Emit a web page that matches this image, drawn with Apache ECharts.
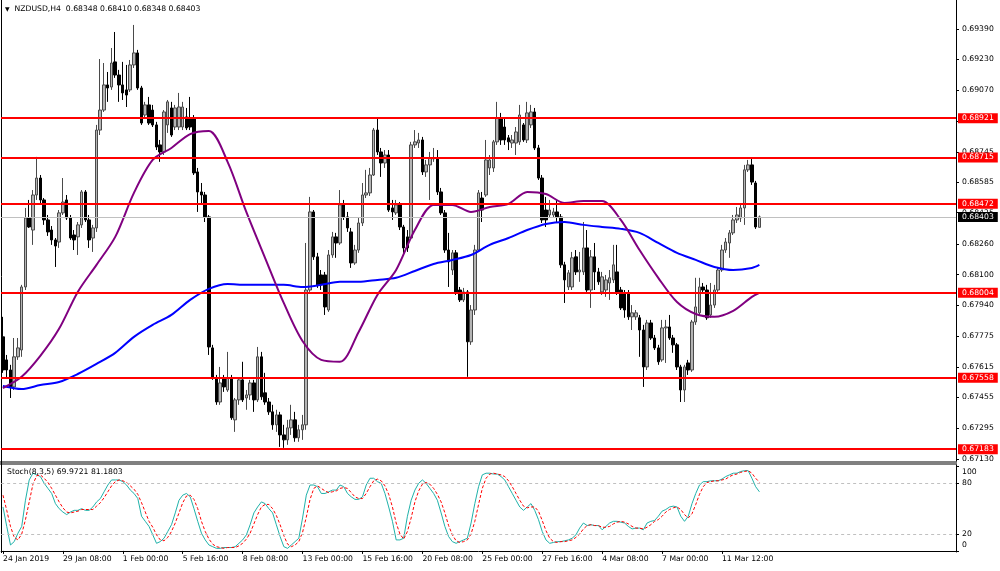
<!DOCTYPE html>
<html>
<head>
<meta charset="utf-8">
<script src="https://cdn.jsdelivr.net/npm/echarts@6.0.0/dist/echarts.min.js"></script>
<style>html,body{margin:0;padding:0;background:#fff}#chart{width:1000px;height:571px}</style>
</head>
<body>
<div id="chart"></div>
<script>
const symbolName = 'NZDUSD,H4';
const stochName = 'Stoch(8,3,5)';
const tickLabels = ['24 Jan 2019','29 Jan 08:00','1 Feb 00:00','5 Feb 16:00','8 Feb 08:00','13 Feb 00:00','15 Feb 16:00','20 Feb 08:00','25 Feb 00:00','27 Feb 16:00','4 Mar 08:00','7 Mar 00:00','11 Mar 12:00'];
const priceTicks = [0.69390,0.69230,0.69070,0.68905,0.68745,0.68585,0.68425,0.68260,0.68100,0.67940,0.67775,0.67615,0.67455,0.67295,0.67130];
const levels = [0.68921,0.68715,0.68472,0.68004,0.67558,0.67183];
const stochTicks = [100,80,20,0];
const stochLevels = [80,20];
// candles: [open, close, low, high]
const candles = [
[0.67773,0.67599,0.67584,0.67878],[0.67652,0.67599,0.67557,0.67678],[0.67599,0.67510,0.67452,0.67626],[0.67510,0.67668,0.67494,0.67767],
[0.67668,0.67715,0.67652,0.67767],[0.67704,0.68035,0.67668,0.68046],[0.68035,0.68397,0.68019,0.68450],[0.68397,0.68350,0.68345,0.68492],
[0.68334,0.68518,0.68256,0.68544],[0.68518,0.68607,0.68492,0.68718],[0.68607,0.68492,0.68466,0.68623],[0.68492,0.68387,0.68361,0.68502],
[0.68387,0.68324,0.68303,0.68413],[0.68334,0.68282,0.68256,0.68355],[0.68282,0.68250,0.68140,0.68292],[0.68271,0.68424,0.68240,0.68439],
[0.68424,0.68481,0.68413,0.68607],[0.68492,0.68397,0.68387,0.68518],[0.68397,0.68292,0.68282,0.68413],[0.68308,0.68282,0.68229,0.68334],
[0.68298,0.68361,0.68203,0.68376],[0.68361,0.68534,0.68345,0.68544],[0.68534,0.68387,0.68376,0.68544],[0.68387,0.68282,0.68240,0.68413],
[0.68292,0.68345,0.68219,0.68361],[0.68345,0.68859,0.68324,0.68886],[0.68859,0.68964,0.68833,0.69232],[0.68964,0.69096,0.68954,0.69211],
[0.69096,0.69080,0.69007,0.69164],[0.69085,0.69211,0.69070,0.69290],[0.69217,0.69148,0.69133,0.69374],[0.69148,0.69096,0.69007,0.69175],
[0.69096,0.69054,0.69017,0.69217],[0.69070,0.69043,0.68980,0.69201],[0.69070,0.69201,0.69059,0.69227],[0.69201,0.69264,0.69185,0.69411],
[0.69264,0.69080,0.69070,0.69280],[0.69080,0.68896,0.68886,0.69091],[0.68938,0.68991,0.68923,0.69007],[0.68991,0.68896,0.68886,0.69033],
[0.68964,0.68886,0.68875,0.68991],[0.68886,0.68770,0.68754,0.68902],[0.68781,0.68744,0.68692,0.68807],[0.68744,0.68954,0.68728,0.68964],
[0.68886,0.69007,0.68844,0.69017],[0.68975,0.68833,0.68823,0.69007],[0.68875,0.68975,0.68859,0.68991],[0.68875,0.68980,0.68859,0.69054],
[0.68875,0.68980,0.68859,0.69007],[0.68928,0.68870,0.68859,0.68975],[0.68923,0.68875,0.68859,0.69033],[0.68923,0.68634,0.68623,0.68938],
[0.68639,0.68534,0.68429,0.68660],[0.68534,0.68518,0.68466,0.68581],[0.68518,0.68403,0.68376,0.68534],[0.68403,0.67720,0.67678,0.68413],
[0.67715,0.67557,0.67547,0.67731],[0.67557,0.67431,0.67416,0.67573],[0.67431,0.67531,0.67416,0.67615],[0.67557,0.67510,0.67484,0.67573],
[0.67494,0.67557,0.67484,0.67694],[0.67557,0.67348,0.67337,0.67573],[0.67337,0.67442,0.67274,0.67452],[0.67442,0.67547,0.67416,0.67557],
[0.67547,0.67442,0.67431,0.67642],[0.67452,0.67468,0.67390,0.67494],[0.67468,0.67531,0.67442,0.67547],[0.67531,0.67442,0.67379,0.67547],
[0.67442,0.67668,0.67431,0.67720],[0.67668,0.67458,0.67442,0.67694],[0.67479,0.67431,0.67416,0.67584],[0.67431,0.67379,0.67363,0.67452],
[0.67379,0.67311,0.67285,0.67416],[0.67311,0.67363,0.67274,0.67390],[0.67363,0.67258,0.67195,0.67379],[0.67258,0.67232,0.67190,0.67311],
[0.67232,0.67295,0.67206,0.67337],[0.67295,0.67337,0.67258,0.67416],[0.67337,0.67243,0.67222,0.67379],[0.67243,0.67285,0.67222,0.67311],
[0.67285,0.67311,0.67232,0.67363],[0.67311,0.68019,0.67285,0.68266],[0.68019,0.68429,0.68009,0.68508],[0.68429,0.68193,0.68177,0.68439],
[0.68193,0.68046,0.68030,0.68214],[0.68098,0.68046,0.68019,0.68124],[0.68098,0.67930,0.67888,0.68114],[0.67914,0.68203,0.67904,0.68229],
[0.68203,0.68298,0.68188,0.68324],[0.68298,0.68266,0.68188,0.68319],[0.68266,0.68466,0.68256,0.68544],[0.68466,0.68403,0.68387,0.68492],
[0.68403,0.68345,0.68324,0.68429],[0.68324,0.68161,0.68135,0.68345],[0.68161,0.68229,0.68151,0.68256],[0.68229,0.68371,0.68214,0.68397],
[0.68371,0.68518,0.68355,0.68581],[0.68518,0.68529,0.68502,0.68650],[0.68529,0.68623,0.68513,0.68660],[0.68623,0.68859,0.68618,0.68870],
[0.68859,0.68744,0.68728,0.68923],[0.68744,0.68686,0.68613,0.68765],[0.68686,0.68728,0.68660,0.68754],[0.68728,0.68439,0.68429,0.68754],
[0.68450,0.68429,0.68387,0.68492],[0.68424,0.68466,0.68413,0.68492],[0.68466,0.68350,0.68334,0.68481],[0.68350,0.68240,0.68214,0.68361],
[0.68298,0.68240,0.68219,0.68334],[0.68292,0.68781,0.68282,0.68797],[0.68781,0.68797,0.68765,0.68859],[0.68791,0.68807,0.68765,0.68844],
[0.68807,0.68639,0.68623,0.68823],[0.68639,0.68676,0.68613,0.68702],[0.68676,0.68713,0.68492,0.68744],[0.68707,0.68713,0.68692,0.68765],
[0.68713,0.68534,0.68518,0.68754],[0.68534,0.68424,0.68413,0.68555],[0.68424,0.68229,0.68214,0.68439],[0.68229,0.68167,0.68035,0.68319],
[0.68124,0.68214,0.68098,0.68229],[0.68214,0.68009,0.67993,0.68229],[0.68019,0.67967,0.67956,0.68035],[0.67967,0.68009,0.67956,0.68030],
[0.68009,0.67747,0.67563,0.68019],[0.67747,0.67914,0.67731,0.67940],[0.67914,0.68229,0.67888,0.68256],[0.68229,0.68529,0.68219,0.68544],
[0.68502,0.68439,0.68376,0.68534],[0.68518,0.68702,0.68508,0.68807],[0.68660,0.68702,0.68623,0.68728],[0.68660,0.68797,0.68639,0.68807],
[0.68797,0.68923,0.68781,0.69007],[0.68923,0.68807,0.68781,0.68949],[0.68875,0.68807,0.68781,0.68923],[0.68818,0.68797,0.68754,0.68833],
[0.68791,0.68807,0.68765,0.68833],[0.68791,0.68849,0.68728,0.68875],[0.68797,0.68938,0.68781,0.68991],[0.68886,0.68807,0.68797,0.68896],
[0.68807,0.68949,0.68791,0.69007],[0.68886,0.68954,0.68870,0.68991],[0.68954,0.68765,0.68754,0.68975],[0.68765,0.68607,0.68597,0.68781],
[0.68607,0.68387,0.68371,0.68623],[0.68439,0.68387,0.68350,0.68508],[0.68413,0.68439,0.68397,0.68492],[0.68413,0.68429,0.68397,0.68450],
[0.68429,0.68403,0.68371,0.68492],[0.68403,0.68151,0.68135,0.68418],[0.68151,0.68072,0.67951,0.68167],[0.68035,0.68109,0.68019,0.68124],
[0.68035,0.68188,0.68019,0.68219],[0.68193,0.68114,0.68098,0.68229],[0.68114,0.68124,0.68062,0.68219],[0.68114,0.68240,0.68098,0.68376],
[0.68240,0.68019,0.68009,0.68334],[0.68019,0.68193,0.67925,0.68229],[0.68193,0.68114,0.68019,0.68266],[0.68114,0.68062,0.68046,0.68135],
[0.68009,0.68088,0.67993,0.68114],[0.68019,0.68072,0.67983,0.68098],[0.68056,0.68083,0.67967,0.68124],[0.68072,0.68151,0.68056,0.68256],
[0.68114,0.68009,0.67993,0.68256],[0.68019,0.67925,0.67914,0.68035],[0.68004,0.67914,0.67873,0.68019],[0.68004,0.67878,0.67862,0.68019],
[0.67878,0.67899,0.67809,0.67940],[0.67878,0.67899,0.67862,0.67914],[0.67873,0.67809,0.67668,0.67888],[0.67809,0.67615,0.67510,0.67836],
[0.67615,0.67846,0.67599,0.67862],[0.67846,0.67767,0.67757,0.67862],[0.67767,0.67715,0.67704,0.67783],[0.67715,0.67642,0.67626,0.67731],
[0.67652,0.67820,0.67642,0.67862],[0.67820,0.67825,0.67636,0.67862],[0.67825,0.67767,0.67757,0.67888],[0.67767,0.67731,0.67689,0.67783],
[0.67731,0.67615,0.67599,0.67741],[0.67615,0.67494,0.67431,0.67626],[0.67494,0.67615,0.67431,0.67626],[0.67636,0.67599,0.67573,0.67652],
[0.67599,0.67851,0.67589,0.67862],[0.67851,0.67930,0.67836,0.68083],[0.67899,0.68035,0.67888,0.68083],[0.68035,0.68019,0.68004,0.68056],
[0.68019,0.67873,0.67862,0.68046],[0.67888,0.67940,0.67873,0.68056],[0.67940,0.68019,0.67925,0.68046],[0.68019,0.68124,0.68009,0.68140],
[0.68124,0.68229,0.68114,0.68256],[0.68229,0.68271,0.68214,0.68292],[0.68266,0.68319,0.68188,0.68334],[0.68319,0.68387,0.68308,0.68413],
[0.68387,0.68413,0.68371,0.68455],[0.68397,0.68450,0.68376,0.68466],[0.68450,0.68650,0.68361,0.68676],[0.68650,0.68676,0.68639,0.68702],
[0.68676,0.68586,0.68571,0.68713],[0.68581,0.68350,0.68340,0.68592],[0.68348,0.68403,0.68348,0.68410]
];
const maSampleBars = [0,5,10,15,20,25,30,35,40,45,50,55,60,65,70,75,80,85,90,95,100,105,110,115,120,125,130,135,140,145,150,155,160,165,170,175,180,185,190,195,200,202];
const maBlue = [0.67515,0.67499,0.67520,0.67536,0.67578,0.67631,0.67689,0.67773,0.67836,0.67888,0.67967,0.68025,0.68051,0.68046,0.68046,0.68046,0.68035,0.68046,0.68062,0.68062,0.68072,0.68083,0.68119,0.68156,0.68177,0.68203,0.68256,0.68292,0.68334,0.68366,0.68376,0.68361,0.68350,0.68340,0.68319,0.68266,0.68214,0.68177,0.68140,0.68124,0.68135,0.68151];
const maPurple = [0.67504,0.67563,0.67673,0.67815,0.68009,0.68151,0.68298,0.68529,0.68702,0.68765,0.68838,0.68854,0.68692,0.68429,0.68188,0.67951,0.67751,0.67652,0.67642,0.67799,0.67993,0.68124,0.68334,0.68466,0.68466,0.68429,0.68455,0.68471,0.68534,0.68523,0.68476,0.68486,0.68486,0.68387,0.68229,0.68083,0.67956,0.67893,0.67878,0.67909,0.67983,0.68004];
const stochMain = [52,29,7,11,21,29,60,84,92,90,88,80,74,68,56,50,46,43,46,48,48,50,48,48,52,58,62,70,78,84,84,84,82,78,72,68,62,41,35,29,19,9,11,15,23,31,45,60,66,68,64,50,35,21,13,7,5,3,3,4,4,4,5,9,13,19,31,45,52,58,56,50,45,31,17,5,3,7,11,15,39,66,78,78,76,68,68,70,72,72,78,76,68,64,61,61,64,78,86,86,82,80,68,52,35,13,13,15,41,60,72,80,84,80,74,68,60,45,29,17,11,9,11,13,15,33,56,76,90,92,92,91,91,88,84,76,68,60,52,48,52,56,48,37,23,13,9,10,11,11,12,13,15,19,27,33,30,31,30,30,25,29,33,35,35,34,33,29,26,27,27,25,33,35,36,41,47,49,52,53,52,41,35,41,56,68,78,82,82,83,83,83,85,88,90,92,92,94,95,95,86,76,69.9721];
const stochSignal = [66,48,29,16,13,20,37,58,79,89,90,86,81,74,66,58,51,46,45,46,47,49,49,49,49,53,57,63,70,77,82,84,83,81,77,73,67,57,46,35,28,19,13,12,16,23,33,45,57,65,66,61,50,35,23,14,8,5,4,3,4,4,4,6,9,14,21,32,43,52,55,55,50,42,31,18,8,5,7,11,22,40,61,74,77,74,71,69,70,71,74,75,74,69,64,62,62,68,76,83,85,83,77,67,52,33,20,14,23,39,58,71,79,81,79,74,67,58,45,30,19,12,10,11,13,20,35,55,74,86,91,92,91,90,88,83,76,68,60,53,51,52,52,47,36,24,15,11,10,11,11,12,13,16,20,26,30,31,30,30,28,28,29,32,34,35,34,32,29,27,27,26,28,31,35,37,41,46,49,51,52,49,43,39,44,55,67,76,81,82,83,83,84,85,88,90,91,93,94,95,92,86,81.1803];

const FONT = 'DejaVu Sans';
const FS = 7.7;
const SLOTS = 255;
const cats = [];
for (let i = 0; i < SLOTS; i++) cats.push(String(i));
const last = candles[candles.length - 1];
const lastPrice = last[1];
const showTick = (i) => i % 16 === 0 && (i / 16) < tickLabels.length;

const chart = echarts.init(document.getElementById('chart'), null, {renderer: 'canvas'});

const boxLabel = (txt, bg) => ({show: true, position: 'end', distance: 2, formatter: txt, color: '#ffffff', backgroundColor: bg,
  padding: [1, 4, 1, 4], fontFamily: FONT, fontSize: FS, lineHeight: 8});
const redLines = levels.map(v => ({yAxis: v, lineStyle: {color: '#ff0000', width: 2, type: 'solid'}, label: boxLabel(v.toFixed(5), '#ff0000')}));
const priceLine = [{yAxis: lastPrice, lineStyle: {color: '#c0c0c0', width: 1, type: 'solid'}, label: boxLabel(lastPrice.toFixed(5), '#000000')}];

const option = {
  animation: false,
  backgroundColor: '#ffffff',
  title: [
    {text: '{a|▼}  ' + symbolName + '  ' + [last[0], last[3], last[2], last[1]].map(v => v.toFixed(5)).join(' '),
     left: 5, top: 5, padding: 0,
     textStyle: {fontFamily: FONT, fontSize: FS, fontWeight: 'normal', color: '#000',
       rich: {a: {fontSize: 6, fontFamily: FONT, color: '#000'}}}},
    {text: stochName + ' ' + stochMain[stochMain.length - 1].toFixed(4) + ' ' + stochSignal[stochSignal.length - 1].toFixed(4),
     left: 7, top: 468, padding: 0,
     textStyle: {fontFamily: FONT, fontSize: FS, fontWeight: 'normal', color: '#000'}}
  ],
  grid: [
    {left: 1, right: 44, top: 0, height: 461, show: false},
    {left: 1, right: 44, top: 465, height: 87, show: false}
  ],
  xAxis: [
    {type: 'category', gridIndex: 0, data: cats, boundaryGap: true,
     axisLine: {show: false}, axisTick: {show: false}, axisLabel: {show: false}, splitLine: {show: false}},
    {type: 'category', gridIndex: 1, data: cats, boundaryGap: true,
     axisLine: {show: true, lineStyle: {color: '#000', width: 1}},
     axisTick: {show: true, interval: showTick, alignWithLabel: true, length: 3, lineStyle: {color: '#000'}},
     axisLabel: {show: true, interval: showTick, align: 'left', margin: 3, color: '#000', fontFamily: FONT, fontSize: FS,
       formatter: (val, idx) => tickLabels[idx / 16] || ''},
     splitLine: {show: false}}
  ],
  yAxis: [
    {type: 'value', gridIndex: 0, position: 'right', min: 0.67121, max: 0.69542,
     axisLine: {show: true, lineStyle: {color: '#000', width: 1}},
     axisTick: {show: true, customValues: priceTicks, length: 3, lineStyle: {color: '#000'}},
     axisLabel: {show: true, customValues: priceTicks, margin: 6, color: '#000', fontFamily: FONT, fontSize: FS,
       formatter: v => v.toFixed(5)},
     splitLine: {show: false}},
    {type: 'value', gridIndex: 1, position: 'right', min: -1.3, max: 101.7,
     axisLine: {show: true, lineStyle: {color: '#000', width: 1}},
     axisTick: {show: true, customValues: stochTicks, length: 3, lineStyle: {color: '#000'}},
     axisLabel: {show: true, customValues: stochTicks, margin: 6, color: '#000', fontFamily: FONT, fontSize: FS,
       formatter: v => v === 100 ? '{t|100}' : (v === 0 ? '{b|0}' : '{m|' + v + '}'),
       rich: {t: {padding: [11, 0, 0, 0], fontFamily: FONT, fontSize: FS, color: '#000'},
              b: {padding: [0, 0, 12, 0], fontFamily: FONT, fontSize: FS, color: '#000'},
              m: {fontFamily: FONT, fontSize: FS, color: '#000'}}},
     splitLine: {show: false}}
  ],
  series: [
    {type: 'line', name: 'bidLine', xAxisIndex: 0, yAxisIndex: 0, data: [], z: 1,
     markLine: {silent: true, precision: 5, symbol: ['none', 'none'], animation: false, data: priceLine}},
    {type: 'candlestick', name: 'price', xAxisIndex: 0, yAxisIndex: 0, data: candles, barWidth: 3, z: 2,
     itemStyle: {color: '#b4b4b4', color0: '#000000', borderColor: '#4a4a4a', borderColor0: '#000000', borderWidth: 1}},
    {type: 'line', name: 'maSlow', xAxisIndex: 0, yAxisIndex: 0, showSymbol: false, symbol: 'none', smooth: 0.3,
     data: maSampleBars.map((b, k) => [b, maBlue[k]]), lineStyle: {color: '#0000ff', width: 2}, z: 3},
    {type: 'line', name: 'maFast', xAxisIndex: 0, yAxisIndex: 0, showSymbol: false, symbol: 'none', smooth: 0.3,
     data: maSampleBars.map((b, k) => [b, maPurple[k]]), lineStyle: {color: '#800080', width: 2}, z: 3},
    {type: 'line', name: 'levels', xAxisIndex: 0, yAxisIndex: 0, data: [], z: 4,
     markLine: {silent: true, precision: 5, symbol: ['none', 'none'], animation: false, data: redLines}},
    {type: 'line', name: 'stochMain', xAxisIndex: 1, yAxisIndex: 1, showSymbol: false, symbol: 'none',
     data: stochMain, lineStyle: {color: '#20b2aa', width: 1}, z: 3,
     markLine: {silent: true, precision: 2, symbol: ['none', 'none'], label: {show: false},
       data: stochLevels.map(v => ({yAxis: v})), lineStyle: {color: '#c0c0c0', width: 1, type: [3, 3]}}},
    {type: 'line', name: 'stochSignal', xAxisIndex: 1, yAxisIndex: 1, showSymbol: false, symbol: 'none',
     data: stochSignal, lineStyle: {color: '#ff0000', width: 1, type: [3, 2]}, z: 3}
  ],
  graphic: [
    {type: 'rect', shape: {x: 0, y: 461, width: 957, height: 4}, style: {fill: '#808080'}, silent: true},
    {type: 'line', shape: {x1: 1.5, y1: 0, x2: 1.5, y2: 553}, style: {stroke: '#000', lineWidth: 1}, silent: true}
  ]
};
chart.setOption(option);
</script>
</body>
</html>
